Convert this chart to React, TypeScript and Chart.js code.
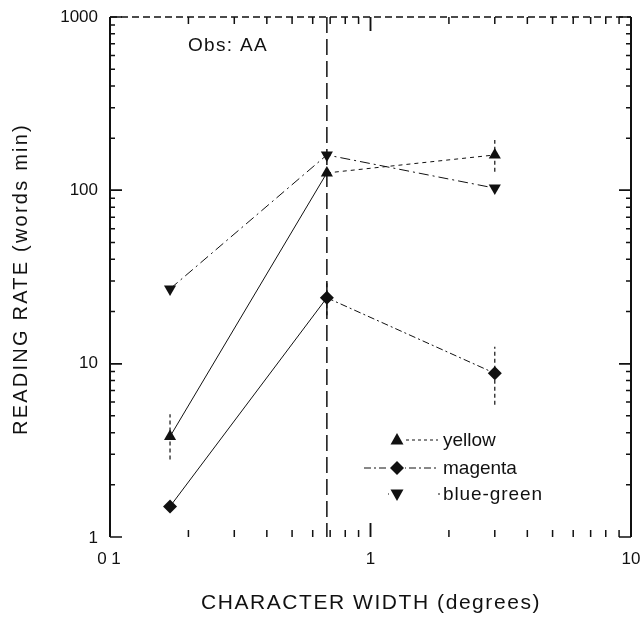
import React, { useEffect, useRef } from "react";
import { Chart, registerables } from "chart.js";

Chart.register(...registerables);

const xValues = [0.17, 0.68, 3.0];
const yellow = [3.8, 126, 160];
const magenta = [1.5, 24, 8.8];
const blueGreen = [27, 160, 103];

// error bars: [xIndex, low, high]
const yellowErr = [[0, 2.8, 5.1], [2, 128, 195]];
const magentaErr = [[1, 19, 30], [2, 5.8, 12.5]];

const xTickLabels = ["0 1", "1", "10"];
const xTickValues = [0.1, 1, 10];
const yTickLabels = ["1", "10", "100", "1000"];
const yTickValues = [1, 10, 100, 1000];
const conditionX = 0.68;
const seriesNames = ["yellow", "magenta", "blue-green"];
const xTitle = "CHARACTER WIDTH (degrees)";
const yTitle = "READING RATE (words min)";
const obsLabel = "Obs: AA";

const FONT = '"Liberation Sans", Arial, sans-serif';

function fitText(ctx: any, text: string, target: number) {
  ctx.letterSpacing = "0px";
  const w = ctx.measureText(text).width;
  const sp = Math.max(0, (target - w) / text.length);
  ctx.letterSpacing = `${sp}px`;
}

export default function App() {
  const ref = useRef<HTMLCanvasElement>(null);
  useEffect(() => {
    document.body.style.margin = "0";
    const canvas = ref.current!;
    const mk = (arr: number[]) => arr.map((y, i) => ({ x: xValues[i], y }));

    const overlay = {
      id: "overlay",
      beforeDatasetsDraw(chart: any) {
        const ctx = chart.ctx;
        const xs = chart.scales.x;
        const a = chart.chartArea;
        ctx.save();
        ctx.strokeStyle = "#111";
        const vx = xs.getPixelForValue(conditionX);
        ctx.lineWidth = 1.5;
        ctx.setLineDash([16, 6]);
        ctx.beginPath();
        ctx.moveTo(vx, a.top);
        ctx.lineTo(vx, a.bottom);
        ctx.stroke();
        ctx.setLineDash([]);
        ctx.restore();
      },
      afterDatasetsDraw(chart: any) {
        const ctx = chart.ctx;
        const xs = chart.scales.x;
        const ys = chart.scales.y;
        const a = chart.chartArea;
        ctx.save();
        ctx.strokeStyle = "#111";
        ctx.fillStyle = "#111";
        ctx.lineWidth = 2;
        ctx.beginPath();
        ctx.moveTo(a.left, a.top);
        ctx.lineTo(a.left, a.bottom);
        ctx.stroke();
        ctx.beginPath();
        ctx.moveTo(a.right, a.top);
        ctx.lineTo(a.right, a.bottom);
        ctx.stroke();
        ctx.lineWidth = 1.5;
        ctx.setLineDash([7, 4]);
        ctx.beginPath();
        ctx.moveTo(a.left, a.top);
        ctx.lineTo(a.right, a.top);
        ctx.stroke();
        ctx.setLineDash([]);
        ctx.lineWidth = 1.5;
        for (let d = 0.1; d < 10; d *= 10) {
          for (let m = 1; m <= 10; m++) {
            const v = d * m;
            if (v > 10.0001) break;
            const px = xs.getPixelForValue(v);
            const major = m === 1 || m === 10;
            const len = major ? 14 : 7;
            ctx.beginPath();
            ctx.moveTo(px, a.bottom);
            ctx.lineTo(px, a.bottom - len);
            ctx.moveTo(px, a.top);
            ctx.lineTo(px, a.top + len);
            ctx.stroke();
          }
        }
        for (let d = 1; d < 1000; d *= 10) {
          for (let m = 1; m <= 10; m++) {
            const v = d * m;
            const py = ys.getPixelForValue(v);
            const major = m === 1 || m === 10;
            const len = major ? 12 : 5;
            ctx.beginPath();
            ctx.moveTo(a.left, py);
            ctx.lineTo(a.left + len, py);
            ctx.moveTo(a.right, py);
            ctx.lineTo(a.right - len, py);
            ctx.stroke();
          }
        }
        ctx.lineWidth = 1.2;
        ctx.setLineDash([4, 3]);
        const drawErr = (list: number[][]) => {
          list.forEach(([i, lo, hi]) => {
            const px = xs.getPixelForValue(xValues[i]);
            ctx.beginPath();
            ctx.moveTo(px, ys.getPixelForValue(lo));
            ctx.lineTo(px, ys.getPixelForValue(hi));
            ctx.stroke();
          });
        };
        drawErr(yellowErr);
        drawErr(magentaErr);
        ctx.setLineDash([]);

        // tick labels
        ctx.font = `17px ${FONT}`;
        ctx.textBaseline = "middle";
        ctx.textAlign = "right";
        yTickValues.forEach((v, i) => {
          const py = ys.getPixelForValue(v);
          ctx.fillText(yTickLabels[i], a.left - 12, i === 0 ? py + 1 : py);
        });
        ctx.textAlign = "center";
        xTickValues.forEach((v, i) => {
          const px = xs.getPixelForValue(v);
          ctx.fillText(xTickLabels[i], i === 0 ? px - 1 : px, a.bottom + 22);
        });
        // axis titles
        ctx.font = `21px ${FONT}`;
        fitText(ctx, xTitle, 340);
        ctx.textAlign = "left";
        const wx = ctx.measureText(xTitle).width;
        ctx.fillText(xTitle, 371 - wx / 2, 603);
        ctx.save();
        ctx.translate(21, 279);
        ctx.rotate(-Math.PI / 2);
        ctx.font = `20px ${FONT}`;
        fitText(ctx, yTitle, 312);
        const wy = ctx.measureText(yTitle).width;
        ctx.fillText(yTitle, -wy / 2, 0);
        ctx.restore();
        ctx.letterSpacing = "0px";
        // Obs label
        ctx.textAlign = "left";
        ctx.font = `19px ${FONT}`;
        fitText(ctx, obsLabel, 80);
        ctx.fillText(obsLabel, 188, 46);
        ctx.letterSpacing = "0px";

        // legend
        const rows = [
          { y: 440, style: "triangle", rot: 0, dash: [3, 3], x0: 406, x1: 438, tw: 52 },
          { y: 468, style: "rectRot", rot: 0, dash: [7, 3, 2, 3], x0: 364, x1: 438, tw: 73 },
          { y: 494, style: "triangle", rot: 180, dash: [2, 48], x0: 388, x1: 440, tw: 100 },
        ];
        const mx = 397;
        rows.forEach((r, i) => {
          ctx.lineWidth = 1;
          ctx.setLineDash(r.dash);
          ctx.beginPath();
          ctx.moveTo(r.x0, r.y);
          ctx.lineTo(r.x1, r.y);
          ctx.stroke();
          ctx.setLineDash([]);
          ctx.fillStyle = "#fff";
          ctx.fillRect(mx - 8, r.y - 8, 16, 16);
          ctx.fillStyle = "#111";
          ctx.beginPath();
          if (r.style === "rectRot") {
            ctx.moveTo(mx, r.y - 7);
            ctx.lineTo(mx + 7, r.y);
            ctx.lineTo(mx, r.y + 7);
            ctx.lineTo(mx - 7, r.y);
          } else if (r.rot === 0) {
            ctx.moveTo(mx, r.y - 7);
            ctx.lineTo(mx + 6.5, r.y + 4.5);
            ctx.lineTo(mx - 6.5, r.y + 4.5);
          } else {
            ctx.moveTo(mx, r.y + 7);
            ctx.lineTo(mx + 6.5, r.y - 4.5);
            ctx.lineTo(mx - 6.5, r.y - 4.5);
          }
          ctx.closePath();
          ctx.fill();
          ctx.font = `19px ${FONT}`;
          ctx.textAlign = "left";
          fitText(ctx, seriesNames[i], r.tw);
          ctx.fillText(seriesNames[i], 443, r.y + 1);
          ctx.letterSpacing = "0px";
        });
        ctx.restore();
      },
    };

    const common = {
      borderColor: "#111",
      backgroundColor: "#111",
      borderWidth: 1,
      showLine: true,
      pointRadius: 7,
      pointHoverRadius: 7,
      pointBorderWidth: 0,
    };

    const chart = new Chart(canvas, {
      type: "scatter",
      data: {
        datasets: [
          {
            ...common,
            label: seriesNames[0],
            data: mk(yellow),
            pointStyle: "triangle",
            segment: { borderDash: (c: any) => (c.p0DataIndex === 0 ? [] : [4, 4]) },
          },
          {
            ...common,
            label: seriesNames[1],
            data: mk(magenta),
            pointStyle: "rectRot",
            segment: { borderDash: (c: any) => (c.p0DataIndex === 0 ? [] : [7, 3, 2, 3]) },
          },
          {
            ...common,
            label: seriesNames[2],
            data: mk(blueGreen),
            pointStyle: "triangle",
            rotation: 180,
            borderDash: [10, 4, 2, 4],
          },
        ],
      } as any,
      options: {
        animation: false,
        responsive: false,
        maintainAspectRatio: false,
        layout: { padding: { left: 110, right: 13, top: 17, bottom: 81 } },
        plugins: { legend: { display: false }, tooltip: { enabled: false } },
        scales: {
          x: {
            type: "logarithmic",
            min: 0.1,
            max: 10,
            grid: { display: false },
            border: { display: false },
            ticks: { display: false },
            afterFit: (s: any) => { s.height = 0; },
          },
          y: {
            type: "logarithmic",
            min: 1,
            max: 1000,
            grid: { display: false },
            border: { display: false },
            ticks: { display: false },
            afterFit: (s: any) => { s.width = 0; },
          },
        },
      } as any,
      plugins: [overlay],
    });
    return () => chart.destroy();
  }, []);
  return (
    <div style={{ width: 644, height: 618, background: "#fff" }}>
      <canvas ref={ref} width={644} height={618} style={{ display: "block" }} />
    </div>
  );
}
